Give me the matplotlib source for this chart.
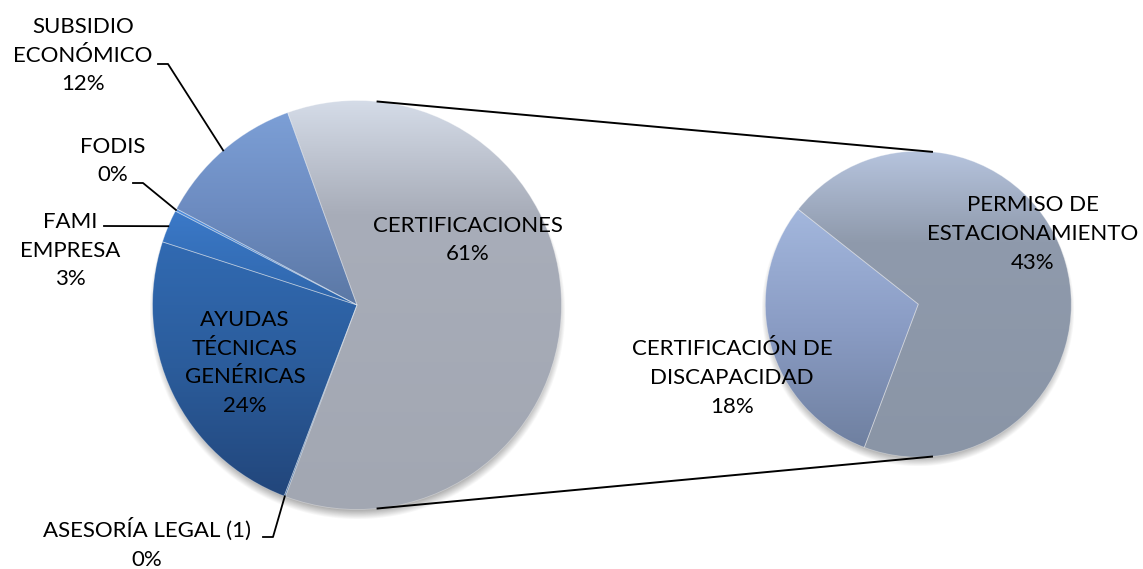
import numpy as np
import matplotlib
matplotlib.use('Agg')
import matplotlib.pyplot as plt
from matplotlib.colors import LinearSegmentedColormap

W, H = 1143, 569

# slices of the main pie (besides the combined "CERTIFICACIONES" slice)
other_labels = ['SUBSIDIO\nECONÓMICO', 'FODIS', 'FAMI\nEMPRESA',
                'AYUDAS\nTÉCNICAS\nGENÉRICAS', 'ASESORÍA LEGAL (1)']
other_values = [11.7, 0.2, 2.6, 24.2, 0.1]

# breakdown of CERTIFICACIONES shown in the secondary pie
cert_label = 'CERTIFICACIONES'
sub_labels = ['CERTIFICACIÓN DE\nDISCAPACIDAD', 'PERMISO DE\nESTACIONAMIENTO']
sub_values = [18.3, 42.9]

main_labels = [cert_label] + other_labels
main_values = [sum(sub_values)] + other_values

# gradient stops (top -> bottom) for each slice
main_grad = [
    [(0.0, '#d6dde9'), (0.28, '#a8adb9'), (1.0, '#a2a7b2')],
    [(0.0, '#7c9fd6'), (0.5, '#6d8cc1'), (1.0, '#5b78a5')],
    [(0.0, '#4f8ede'), (1.0, '#3f79c4')],
    [(0.0, '#3b79c8'), (1.0, '#2f66ab')],
    [(0.0, '#316ab2'), (0.5, '#2b5c9b'), (1.0, '#22467b')],
    [(0.0, '#2a5a96'), (1.0, '#2a5a96')],
]
sub_grad = [
    [(0.0, '#a3b7dd'), (0.5, '#8a9cc4'), (1.0, '#6f80a0')],
    [(0.0, '#b7c5df'), (0.3, '#8f9aac'), (1.0, '#8a95a6')],
]

plt.rcParams['font.family'] = ['Lato', 'DejaVu Sans']

fig = plt.figure(figsize=(W / 100, H / 100), dpi=100)
ax = fig.add_axes([0, 0, 1, 1])

main_c, main_r = (357, H - 305), 204.5
sub_c, sub_r = (918.3, H - 304.2), 153


def shadow(cx, cy, r):
    xs = np.arange(cx - r - 20, cx + r + 20)
    ys = np.arange(cy - r - 20, cy + r + 20)
    X, Y = np.meshgrid(xs, ys)
    d = np.hypot(X - cx, Y - (cy - 6))
    a = 0.55 * np.clip((r + 4 - d) / 10, 0, 1)
    img = np.zeros(X.shape + (4,))
    img[..., :3] = 0.4
    img[..., 3] = a
    ax.imshow(img, extent=[xs[0], xs[-1], ys[0], ys[-1]], origin='lower',
              zorder=0, interpolation='bilinear')


def gradient_fill(wedge, stops):
    v = wedge.get_path().vertices
    x0, x1 = v[:, 0].min(), v[:, 0].max()
    y0, y1 = v[:, 1].min(), v[:, 1].max()
    cmap = LinearSegmentedColormap.from_list('g', stops)
    grad = np.linspace(0, 1, 256)[:, None]
    im = ax.imshow(grad, cmap=cmap, extent=[x0, x1, y0, y1], origin='upper',
                   aspect='auto', zorder=1, interpolation='bilinear')
    im.set_clip_path(wedge)


shadow(*main_c, main_r)
shadow(*sub_c, sub_r)

wedges, _ = ax.pie(main_values, startangle=249.5, center=main_c, radius=main_r,
                   colors=['none'] * len(main_values),
                   wedgeprops=dict(linewidth=0.6, edgecolor=(1, 1, 1, 0.35)))
for w, g in zip(wedges, main_grad):
    gradient_fill(w, g)
    w.set_zorder(2)

swedges, _ = ax.pie(sub_values, startangle=141.7, center=sub_c, radius=sub_r,
                    colors=['none'] * len(sub_values),
                    wedgeprops=dict(linewidth=0.6, edgecolor=(1, 1, 1, 0.35)))
for w, g in zip(swedges, sub_grad):
    gradient_fill(w, g)
    w.set_zorder(2)

# connector lines between the pies
for ang in (84.5, -84.5):
    t = np.deg2rad(ang)
    ax.plot([main_c[0] + main_r * np.cos(t), sub_c[0] + sub_r * np.cos(t)],
            [main_c[1] + main_r * np.sin(t), sub_c[1] + sub_r * np.sin(t)],
            color='black', lw=1.4, zorder=3, solid_capstyle='butt')

fs = 16
ls = 1.55


def lbl(i):
    return f'{main_labels[i]}\n{round(main_values[i])}%'


# labels inside the main pie (image pixel positions)
ax.text(467.5, H - 240, lbl(0), ha='center', va='center', fontsize=fs,
        linespacing=ls, zorder=4)
ax.text(245, H - 363, lbl(4), ha='center', va='center', fontsize=fs,
        linespacing=ls, zorder=4)

# outside labels with leader lines: text pos, elbow start, elbow end
outside = {
    1: ((83, 55.5), (158, 64), (168, 64)),
    2: ((113, 161), (133, 183), (143, 183)),
    3: ((70, 250.5), (104, 226), (104, 226)),
    5: ((147, 544), (263, 537), (273, 537)),
}
for i, (tp, p0, p1) in outside.items():
    ax.text(tp[0], H - tp[1], lbl(i), ha='center', va='center', fontsize=fs,
            linespacing=ls, zorder=4)
    w = wedges[i]
    mid = np.deg2rad((w.theta1 + w.theta2) / 2)
    ex = main_c[0] + main_r * np.cos(mid)
    ey = main_c[1] + main_r * np.sin(mid)
    ax.plot([p0[0], p1[0], ex], [H - p0[1], H - p1[1], ey], color='black',
            lw=1.3, zorder=3)

# secondary pie labels
ax.text(732, H - 378, f'{sub_labels[0]}\n{round(sub_values[0])}%', ha='center',
        va='center', fontsize=fs, linespacing=ls, zorder=4)
ax.text(1033, H - 234, f'{sub_labels[1]}\n{round(sub_values[1])}%', ha='center',
        va='center', fontsize=fs, linespacing=ls, zorder=4)

ax.set_xlim(0, W)
ax.set_ylim(0, H)
ax.set_aspect('equal')
ax.axis('off')
fig.savefig('out.png', dpi=100)
